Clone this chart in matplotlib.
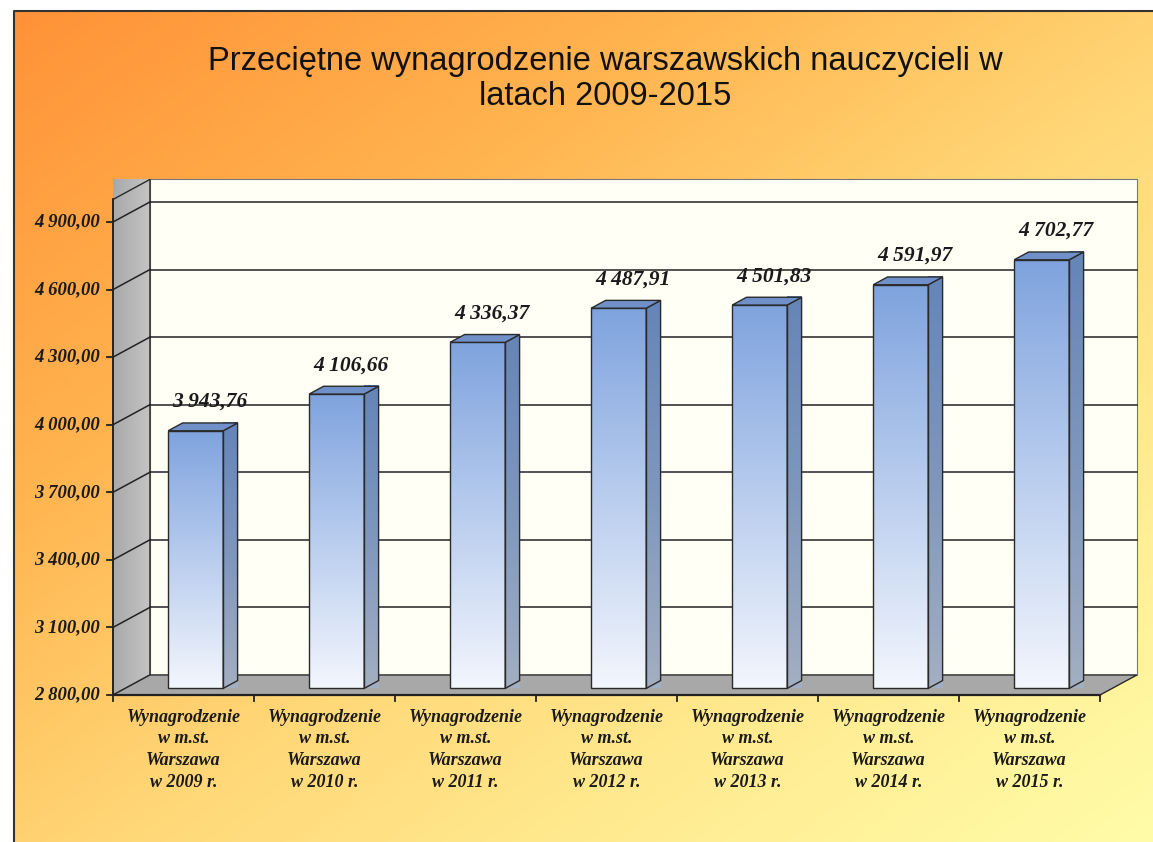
#!/usr/bin/env python3
"""Average salary of Warsaw teachers 2009-2015, pseudo-3D column chart."""

import matplotlib

matplotlib.use("Agg")
import matplotlib.pyplot as plt
import numpy as np
from matplotlib.colors import LinearSegmentedColormap
from matplotlib.patches import Polygon

TITLE = "Przeciętne wynagrodzenie warszawskich nauczycieli w\nlatach 2009-2015"
YEARS = ["2009", "2010", "2011", "2012", "2013", "2014", "2015"]
CATEGORIES = [f"Wynagrodzenie\nw m.st.\nWarszawa\nw {y} r." for y in YEARS]
SALARIES = [3943.76, 4106.66, 4336.37, 4487.91, 4501.83, 4591.97, 4702.77]
Y_TICKS = [2800, 3100, 3400, 3700, 4000, 4300, 4600, 4900]

W, H = 1153, 842
DPI = 100
Y_MIN, Y_MAX = 2800, 4900
WALL_TOP = 5000
DX = 0.262        # depth offset, category units
DY = 89.0         # depth offset, value units
BAR_F0, BAR_F1 = 0.33, 0.72
BAR_HALF = 0.195
SERIF = "Liberation Serif"
EDGE = "#2a2a2a"


def fmt_pl(value):
    s = f"{value:,.2f}"
    return s.replace(",", " ").replace(".", ",")


def px_box(x0, y_top, x1, y_bot):
    return [x0 / W, 1 - y_bot / H, (x1 - x0) / W, (y_bot - y_top) / H]


def gradient_fill(ax, poly_xy, colors, extent, vertical=True, zorder=2):
    cmap = LinearSegmentedColormap.from_list("g", colors)
    grad = np.linspace(0, 1, 256).reshape(-1, 1) if vertical else np.linspace(0, 1, 256).reshape(1, -1)
    im = ax.imshow(grad, cmap=cmap, extent=extent, origin="lower",
                   aspect="auto", zorder=zorder, clip_on=False, interpolation="bicubic")
    patch = Polygon(poly_xy, closed=True, facecolor="none", edgecolor="none",
                    transform=ax.transData)
    ax.add_patch(patch)
    im.set_clip_path(patch)
    ax.add_patch(Polygon(poly_xy, closed=True, facecolor="none", edgecolor=EDGE,
                         linewidth=1.0, zorder=zorder + 0.1, clip_on=False))


fig = plt.figure(figsize=(W / DPI, H / DPI), dpi=DPI, facecolor="white")

# background gradient panel
bg = fig.add_axes(px_box(14, 11, W, H))
bg.set_axis_off()
gx, gy = np.meshgrid(np.linspace(0, 1, 300), np.linspace(0, 1, 300))
bg_cmap = LinearSegmentedColormap.from_list(
    "bg", [(0.0, "#ff9238"), (0.3, "#ffb550"), (0.55, "#ffd878"), (0.8, "#ffee95"),
           (1.0, "#fffca8")])
bg.imshow((gx + gy) / 2, cmap=bg_cmap, extent=[0, 1, 0, 1], origin="upper",
          aspect="auto", vmin=0, vmax=1)
bg.set_xlim(0, 1)
bg.set_ylim(0, 1)
bg.plot([0, 0, 1], [0, 1, 1], color="#333333", linewidth=1.5, transform=bg.transAxes,
        clip_on=False)

fig.text(605 / W, 1 - 79 / H, TITLE, ha="center", va="center", fontsize=23.5,
         family="Liberation Sans", color="#111111", linespacing=1.2)

# front plane axes: x in category units, y in value units
ax = fig.add_axes(px_box(113, 222, 1100, 695))
ax.set_xlim(-0.5, len(SALARIES) - 0.5)
ax.set_ylim(Y_MIN, Y_MAX)
ax.set_axis_off()
ax.patch.set_alpha(0)

x_lo, x_hi = -0.5, len(SALARIES) - 0.5

# back wall
back = [(x_lo + DX, Y_MIN + DY), (x_hi + DX, Y_MIN + DY), (x_hi + DX, WALL_TOP + DY),
        (x_lo + DX, WALL_TOP + DY)]
ax.add_patch(Polygon(back, closed=True, facecolor="#fffff6", edgecolor="#777777",
                     linewidth=0.8, zorder=1, clip_on=False))
# left wall
left = [(x_lo, Y_MIN), (x_lo + DX, Y_MIN + DY), (x_lo + DX, WALL_TOP + DY), (x_lo, WALL_TOP)]
gradient_fill(ax, left, ["#a9a9a9", "#c4c4c4"],
              [x_lo, x_lo + DX, Y_MIN, WALL_TOP + DY], vertical=False, zorder=1)
# floor
floor = [(x_lo, Y_MIN), (x_hi, Y_MIN), (x_hi + DX, Y_MIN + DY), (x_lo + DX, Y_MIN + DY)]
ax.add_patch(Polygon(floor, closed=True, facecolor="#a8a8a8", edgecolor=EDGE,
                     linewidth=1.0, zorder=1.5, clip_on=False))

# gridlines on back wall and left wall
for v in Y_TICKS[1:]:
    ax.plot([x_lo + DX, x_hi + DX], [v + DY, v + DY], color="#222222", linewidth=1.1,
            zorder=1.2, clip_on=False)
    ax.plot([x_lo, x_lo + DX], [v, v + DY], color="#222222", linewidth=1.1,
            zorder=1.2, clip_on=False)

# axis lines and ticks
ax.plot([x_lo, x_lo], [Y_MIN, WALL_TOP], color="#222222", linewidth=1.3, zorder=3,
        clip_on=False)
ax.plot([x_lo, x_hi], [Y_MIN, Y_MIN], color="#222222", linewidth=1.6, zorder=3,
        clip_on=False)
tick_dx = 0.04
tick_dy = 25
for v in Y_TICKS:
    ax.plot([x_lo - tick_dx, x_lo], [v, v], color="#222222", linewidth=1.3, zorder=3,
            clip_on=False)
    ax.text(x_lo - 0.09, v, fmt_pl(v), ha="right", va="center", fontsize=13.5,
            family=SERIF, weight="bold", style="italic", color="#1a1a1a")
for k in range(len(SALARIES) + 1):
    xb = x_lo + k
    ax.plot([xb, xb], [Y_MIN, Y_MIN - tick_dy], color="#222222", linewidth=1.3,
            zorder=3, clip_on=False)
for i, cat in enumerate(CATEGORIES):
    ax.text(i, Y_MIN - 60, cat, ha="center", va="top", fontsize=13, family=SERIF,
            weight="bold", style="italic", color="#1a1a1a", linespacing=1.38)

# bars
for i, val in enumerate(SALARIES):
    x0 = i - BAR_HALF + BAR_F0 * DX
    x1 = i + BAR_HALF + BAR_F0 * DX
    yb = Y_MIN + BAR_F0 * DY
    yt = val + BAR_F0 * DY
    ddx = (BAR_F1 - BAR_F0) * DX
    ddy = (BAR_F1 - BAR_F0) * DY
    front = [(x0, yb), (x1, yb), (x1, yt), (x0, yt)]
    gradient_fill(ax, front, ["#f3f6fd", "#b9cdee", "#7fa3de"],
                  [x0, x1, yb, yt], zorder=4)
    side = [(x1, yb), (x1 + ddx, yb + ddy), (x1 + ddx, yt + ddy), (x1, yt)]
    gradient_fill(ax, side, ["#a3afc2", "#7f97bd", "#6585b8"],
                  [x1, x1 + ddx, yb, yt + ddy], zorder=4)
    top = [(x0, yt), (x1, yt), (x1 + ddx, yt + ddy), (x0 + ddx, yt + ddy)]
    ax.add_patch(Polygon(top, closed=True, facecolor="#6f90c9", edgecolor=EDGE,
                         linewidth=1.0, zorder=4.2, clip_on=False))
    ax.annotate(fmt_pl(val), xy=(i + BAR_F1 * DX, val + BAR_F1 * DY),
                xytext=(0, 8), textcoords="offset points", ha="center", va="bottom",
                fontsize=15.5, family=SERIF, weight="bold", style="italic",
                color="#1a1a1a", zorder=5)

fig.savefig("out.png", dpi=DPI, facecolor=fig.get_facecolor())
